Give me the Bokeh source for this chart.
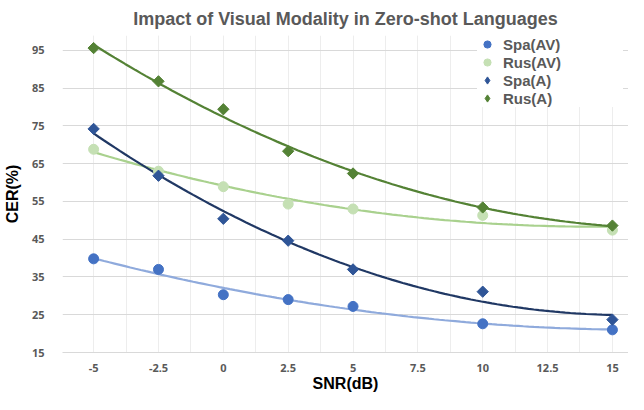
import numpy as np
from bokeh.plotting import figure
from bokeh.models import FixedTicker, Legend, LegendItem, Range1d, ColumnDataSource
from bokeh.embed import file_html
from bokeh.resources import INLINE

snr = [-5, -2.5, 0, 2.5, 5, 10, 15]
spa_av = [39.8, 37.0, 30.3, 29.0, 27.2, 22.6, 21.0]
rus_av = [68.8, 63.0, 58.9, 54.3, 53.0, 51.3, 47.4]
spa_a = [74.2, 61.8, 50.4, 44.6, 37.0, 31.1, 23.7]
rus_a = [95.6, 86.8, 79.4, 68.3, 62.4, 53.4, 48.6]

x_ticks = [-5, -2.5, 0, 2.5, 5, 7.5, 10, 12.5, 15]
x_tick_labels = ["-5", "-2.5", "0", "2.5", "5", "7.5", "10", "12.5", "15"]
y_ticks = [15, 25, 35, 45, 55, 65, 75, 85, 95]

# name, values, marker, marker colour, trend colour, size, angle, legend marker
series = [
    ("Spa(AV)", spa_av, "circle", "#4472C4", "#8FAADC", 10, 0.0, None),
    ("Rus(AV)", rus_av, "circle", "#C5E0B4", "#A9D18E", 10, 0.0, None),
    ("Spa(A)", spa_a, "square", "#2F5597", "#203864", 8, np.pi / 4, "diamond"),
    ("Rus(A)", rus_a, "square", "#548235", "#548235", 8, np.pi / 4, "diamond"),
]

p = figure(width=628, height=394, output_backend="svg", toolbar_location=None,
           x_range=Range1d(-6.2, 15.62), y_range=Range1d(15, 98.93),
           title="Impact of Visual Modality in Zero-shot Languages",
           min_border_left=62, min_border_right=0, min_border_top=33, min_border_bottom=41)

p.title.align = "center"
p.title.text_font = "Liberation Sans"
p.title.text_font_size = "18px"
p.title.text_font_style = "bold"
p.title.text_color = "#595959"
p.title.offset = 0
p.title.standoff = 13

p.outline_line_color = None

p.xaxis.ticker = FixedTicker(ticks=x_ticks, minor_ticks=[-6.25 + 1.25 * i for i in range(19)])
p.xaxis.major_label_overrides = {t: l for t, l in zip(x_ticks, x_tick_labels)}
p.yaxis.ticker = FixedTicker(ticks=y_ticks)

for ax in (p.xaxis, p.yaxis):
    ax.major_tick_line_color = None
    ax.minor_tick_line_color = None
    ax.major_label_text_font = "Noto Sans"
    ax.major_label_text_font_style = "bold"
    ax.major_label_text_font_size = "11px"
    ax.major_label_text_color = "#595959"
    ax.axis_label_text_font = "Liberation Sans"
    ax.axis_label_text_font_style = "bold"
    ax.axis_label_text_font_size = "16px"
    ax.axis_label_text_color = "#000000"

p.xaxis.axis_label = "SNR(dB)"
p.yaxis.axis_label = "CER(%)"
p.xaxis.axis_line_color = "#D9D9D9"
p.yaxis.axis_line_color = None
p.xaxis.major_label_standoff = 5
p.xaxis.axis_label_standoff = 0
p.yaxis.major_label_standoff = 12
p.yaxis.axis_label_standoff = 8

p.ygrid.grid_line_color = "#D9D9D9"
p.ygrid.grid_line_width = 1
p.xgrid.grid_line_color = "#EDEDED"
p.xgrid.minor_grid_line_color = "#EDEDED"

xs = np.array(snr, dtype=float)
xfit = np.linspace(-5, 15, 100)
items = []
for name, vals, marker, mcol, lcol, size, ang, lmarker in series:
    coef = np.polyfit(xs, np.array(vals), 2)
    yfit = np.polyval(coef, xfit)
    p.line(xfit, yfit, line_color=lcol, line_width=2.2)
for name, vals, marker, mcol, lcol, size, ang, lmarker in series:
    src = ColumnDataSource(dict(x=snr, y=vals))
    r = p.scatter("x", "y", source=src, marker=marker, size=size, angle=ang,
                  fill_color=mcol, line_color=mcol)
    if lmarker is not None:
        # legend-only glyph (no data drawn) so the key shows a diamond
        r = p.scatter(x=[np.nan], y=[np.nan], marker=lmarker, size=size,
                      fill_color=mcol, line_color=mcol)
    items.append(LegendItem(label=name, renderers=[r]))

legend = Legend(items=items, location=(415, 245), padding=2, spacing=0,
                glyph_width=20, glyph_height=18, label_height=18, label_standoff=6,
                label_width=120,
                label_text_font="Liberation Sans", label_text_font_style="bold",
                label_text_font_size="15px", label_text_color="#595959",
                background_fill_color="white", background_fill_alpha=1.0,
                border_line_color=None, margin=0)
p.add_layout(legend)

open("out.html", "w").write(file_html(p, INLINE))
